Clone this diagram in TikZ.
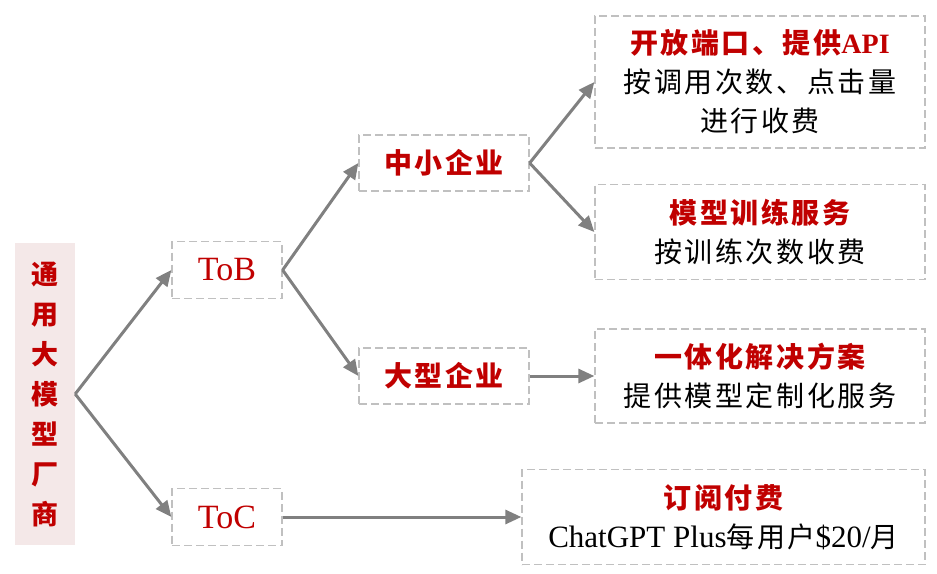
\documentclass[tikz,border=0pt]{standalone}
\usepackage{fontspec}
\setmainfont{Liberation Serif}
\newfontfamily\cjk[LetterSpace=9]{Noto Sans CJK SC}
\usetikzlibrary{positioning,arrows.meta}

\definecolor{hdred}{HTML}{C00000}
\definecolor{arrgray}{HTML}{808080}
\definecolor{boxgray}{HTML}{C0C0C0}
\definecolor{pinkbg}{HTML}{F4E8E8}

\begin{document}
\begin{tikzpicture}[
    x=1pt, y=-1pt,
    dbox/.style={draw=boxgray, dash pattern=on 8pt off 4pt, line width=1.3pt, inner sep=0pt, align=center},
    level/.style={dbox, minimum width=110pt, minimum height=57pt, text=hdred, font=\fontsize{34}{38}\selectfont},
    client/.style={dbox, minimum width=170pt, minimum height=56pt, text=hdred, font=\cjk\bfseries\fontsize{28}{30}\selectfont},
    offer/.style={dbox, minimum width=330pt, font=\cjk\fontsize{28}{39}\selectfont},
    arrow/.style={-{Triangle[length=16pt,width=14pt]}, line width=3pt, draw=arrgray}
]
\useasboundingbox (0,0) rectangle (937,573);

% Vendor
\node[fill=pinkbg, minimum width=60pt, minimum height=302pt, inner sep=0pt, align=center,
      text=hdred, font=\cjk\bfseries\fontsize{27}{40}\selectfont] (vendor) at (45,394)
      {通\\用\\大\\模\\型\\厂\\商};

% Channels
\node[level] (tob) at (227,270) {ToB};
\node[level] (toc) at (227,517) {ToC};

% Clients
\node[client] (sme) at (444,163) {中小企业};
\node[client] (large) at (444,376) {大型企业};

% Offers
\node[offer, minimum height=132pt] (api) at (760,82)
    {{\color{hdred}\bfseries 开放端口、提供{\rmfamily API}}\\按调用次数、点击量\\进行收费};
\node[offer, minimum height=95pt] (train) at (760,232)
    {{\color{hdred}\bfseries 模型训练服务}\\按训练次数收费};
\node[offer, minimum height=94pt] (solution) at (760,376)
    {{\color{hdred}\bfseries 一体化解决方案}\\提供模型定制化服务};
\node[offer, minimum width=403pt, minimum height=95pt] (subscribe) at (723.5,517)
    {{\color{hdred}\bfseries 订阅付费}\\{\rmfamily\fontsize{31}{39}\selectfont ChatGPT Plus}每用户{\rmfamily\fontsize{31}{39}\selectfont\$20/}月};

% Arrows
\draw[arrow] (vendor.east) -- (tob.west);
\draw[arrow] (vendor.east) -- (toc.west);
\draw[arrow] (tob.east) -- (sme.west);
\draw[arrow] (tob.east) -- (large.west);
\draw[arrow] (sme.east) -- (api.west);
\draw[arrow] (sme.east) -- (train.west);
\draw[arrow] (large.east) -- (solution.west);
\draw[arrow] (toc.east) -- (subscribe.west);

\end{tikzpicture}
\end{document}
